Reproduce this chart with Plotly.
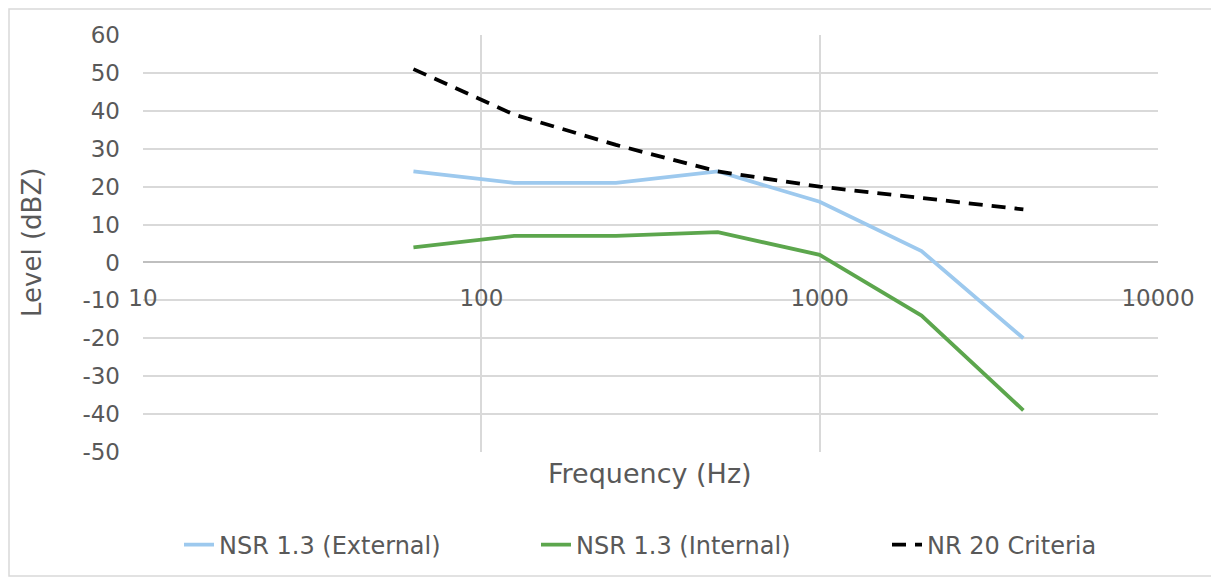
import plotly.graph_objects as go

freq = [63, 125, 250, 500, 1000, 2000, 4000]
external = [24, 21, 21, 24, 16, 3, -20]
internal = [4, 7, 7, 8, 2, -14, -39]
nr20 = [51, 39, 31, 24, 20, 17, 14]
x_ticks = [10, 100, 1000, 10000]
y_ticks = list(range(-50, 61, 10))

# page is offset by the default 8px body margin
OFF = 8
W, H = 1219, 579
L, R, T, B = 143, 1158, 35, 452

def px_x(p):
    return (p - L) / (R - L)

def px_y(p):
    return (B - p) / (B - T)

font = "Verdana, DejaVu Sans, sans-serif"
grey = "#595959"

fig = go.Figure()
fig.add_trace(go.Scatter(x=freq, y=external, mode="lines", name="NSR 1.3 (External)",
                         line=dict(color="#9DC9EE", width=3.8), legend="legend"))
fig.add_trace(go.Scatter(x=freq, y=internal, mode="lines", name="NSR 1.3 (Internal)",
                         line=dict(color="#5CA64D", width=3.8), legend="legend2"))
fig.add_trace(go.Scatter(x=freq, y=nr20, mode="lines", name="NR 20 Criteria",
                         line=dict(color="#000000", width=3.8, dash="14px,9px"), legend="legend3"))

def leg(xpix):
    return dict(orientation="h", x=px_x(xpix), xanchor="left", y=px_y(545), yanchor="middle",
                font=dict(size=24, color=grey), itemwidth=30, bgcolor="rgba(0,0,0,0)")

fig.update_layout(
    width=W - OFF, height=H - OFF,
    margin=dict(l=L - OFF, r=W - R, t=T - OFF, b=H - B, pad=0),
    paper_bgcolor="white", plot_bgcolor="white",
    font=dict(family=font, color=grey, size=23),
    showlegend=True,
    legend=leg(179), legend2=leg(536), legend3=leg(887),
    xaxis=dict(type="log", range=[1, 4], tickvals=x_ticks, ticktext=[str(v) for v in x_ticks],
               showgrid=True, gridcolor="#D9D9D9", gridwidth=1.5,
               showline=False, zeroline=False, ticks="",
               anchor="free", position=px_y(262), ticklabelstandoff=20,
               tickfont=dict(size=23, color=grey)),
    yaxis=dict(range=[-50, 60], tickvals=y_ticks, ticktext=[str(v) for v in y_ticks],
               showgrid=True, gridcolor="#D9D9D9", gridwidth=1.5,
               zeroline=True, zerolinecolor="#BFBFBF", zerolinewidth=2,
               showline=False, ticks="", ticklabelstandoff=22,
               tickfont=dict(size=23, color=grey)),
    shapes=[dict(type="rect", xref="paper", yref="paper",
                 x0=px_x(9), x1=px_x(1214), y0=px_y(576), y1=px_y(9),
                 line=dict(color="#D9D9D9", width=1.5), fillcolor="rgba(0,0,0,0)", layer="below")],
    annotations=[
        dict(text="Frequency (Hz)", xref="paper", yref="paper",
             x=px_x(650), y=px_y(474), xanchor="center", yanchor="middle",
             showarrow=False, font=dict(size=27, color=grey)),
        dict(text="Level (dBZ)", xref="paper", yref="paper", textangle=-90,
             x=px_x(32), y=px_y(243), xanchor="center", yanchor="middle",
             showarrow=False, font=dict(size=26, color=grey)),
    ],
)

fig.write_html("out.html")
